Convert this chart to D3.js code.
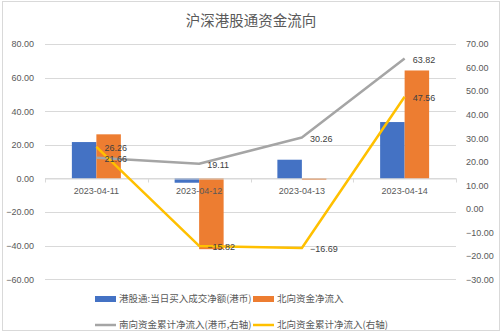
<!DOCTYPE html>
<html><head><meta charset="utf-8">
<script src="https://cdn.jsdelivr.net/npm/d3@7"></script>
<style>body{margin:0;background:#fff}svg{display:block}</style>
</head><body>
<svg id="c" width="502" height="336"></svg>
<script>
const categories = ["2023-04-11","2023-04-12","2023-04-13","2023-04-14"];
const southDaily = [21.66, -2.55, 11.15, 33.56];   // 港股通:当日买入成交净额(港币)
const northDaily = [26.26, -42.08, -0.87, 64.25];  // 北向资金净流入
const southCum = [21.66, 19.11, 30.26, 63.82];     // 南向资金累计净流入(港币,右轴)
const northCum = [26.26, -15.82, -16.69, 47.56];   // 北向资金累计净流入(右轴)
const leftTicks = [80, 60, 40, 20, 0, -20, -40, -60];
const rightTicks = [70, 60, 50, 40, 30, 20, 10, 0, -10, -20, -30];
const title = "沪深港股通资金流向";
const legendNames = ["港股通:当日买入成交净额(港币)","北向资金净流入","南向资金累计净流入(港币,右轴)","北向资金累计净流入(右轴)"];

const svg = d3.select("#c");
const cjk = "'Noto Sans CJK SC','Liberation Sans',sans-serif";
const num = "'Liberation Sans',Arial,sans-serif";
const txt = "#595959";

svg.append("rect").attr("x",2.5).attr("y",1.5).attr("width",497).attr("height",329)
  .attr("fill","#fff").attr("stroke","#d9d9d9").attr("stroke-width",1);

svg.append("text").attr("x",251).attr("y",26).attr("text-anchor","middle")
  .attr("font-family",cjk).attr("font-size",14.5).attr("fill",txt).text(title);

const L = 45, R = 456, T = 44, B = 279.3;
const x = d3.scaleBand().domain(categories).range([L,R]);
const yL = d3.scaleLinear().domain([-60,80]).range([B,T]);
const yR = d3.scaleLinear().domain([-30,70]).range([B,T]);
const barW = 24.5;

// gridlines
svg.append("g").selectAll("line").data(leftTicks).join("line")
  .attr("x1",L).attr("x2",R).attr("y1",d=>Math.round(yL(d))+0.5).attr("y2",d=>Math.round(yL(d))+0.5)
  .attr("stroke","#d9d9d9").attr("stroke-width",1);

// left axis labels
const axL = d3.axisLeft(yL).tickValues(leftTicks).tickFormat(d3.format(".2f")).tickSize(0).tickPadding(11);
const gL = svg.append("g").attr("transform",`translate(${L},0)`).call(axL);
gL.select(".domain").remove();
gL.selectAll("text").attr("font-family",num).attr("font-size",9).attr("fill",txt);

// right axis labels
const axR = d3.axisRight(yR).tickValues(rightTicks).tickFormat(d3.format(".2f")).tickSize(0).tickPadding(10);
const gR = svg.append("g").attr("transform",`translate(${R},0)`).call(axR);
gR.select(".domain").remove();
gR.selectAll("text").attr("font-family",num).attr("font-size",9).attr("fill",txt);

// bars
const data = categories.map((c,i)=>({c, s:southDaily[i], n:northDaily[i]}));
const bars = svg.append("g");
bars.selectAll(".bs").data(data).join("rect")
  .attr("x",d=>x(d.c)+x.bandwidth()/2-barW).attr("width",barW)
  .attr("y",d=>yL(Math.max(0,d.s))).attr("height",d=>Math.abs(yL(d.s)-yL(0)))
  .attr("fill","#4472c4");
bars.selectAll(".bn").data(data).join("rect")
  .attr("x",d=>x(d.c)+x.bandwidth()/2).attr("width",barW)
  .attr("y",d=>yL(Math.max(0,d.n))).attr("height",d=>Math.abs(yL(d.n)-yL(0)))
  .attr("fill","#ed7d31");

// category axis at zero
const axX = d3.axisBottom(x).tickSize(0).tickPadding(9);
const y0 = Math.round(yL(0))+0.5;
const gX = svg.append("g").attr("transform",`translate(0,${y0})`).call(axX);
gX.select(".domain").attr("stroke","#d9d9d9");
gX.selectAll("text").attr("font-family",num).attr("font-size",9).attr("fill",txt);
svg.append("g").selectAll("line").data(d3.range(categories.length+1)).join("line")
  .attr("x1",i=>Math.round(L+i*x.bandwidth())+0.5).attr("x2",i=>Math.round(L+i*x.bandwidth())+0.5)
  .attr("y1",y0).attr("y2",y0+4).attr("stroke","#d9d9d9");

// lines
const cx = c => x(c)+x.bandwidth()/2;
const lineGen = vals => d3.line().x((d,i)=>cx(categories[i])).y(d=>yR(d))(vals);
svg.append("path").attr("d",lineGen(southCum)).attr("fill","none").attr("stroke","#a5a5a5")
  .attr("stroke-width",2.5).attr("stroke-linejoin","round");
svg.append("path").attr("d",lineGen(northCum)).attr("fill","none").attr("stroke","#ffc000")
  .attr("stroke-width",2.5).attr("stroke-linejoin","round");

// data labels
const labels = svg.append("g").attr("font-family",num).attr("font-size",9).attr("fill","#404040");
[southCum, northCum].forEach(vals=>{
  labels.selectAll(null).data(vals).join("text")
    .attr("x",(d,i)=>cx(categories[i])+8).attr("y",d=>yR(d)+4)
    .text(d=>d3.format(".2f")(d));
});

// legend
const lg = svg.append("g").attr("font-family",cjk).attr("font-size",9.5).attr("fill",txt);
const lx = [95, 253];
const ly = [299, 325];
lg.append("rect").attr("x",lx[0]).attr("y",ly[0]-3).attr("width",21).attr("height",6).attr("fill","#4472c4");
lg.append("rect").attr("x",lx[1]).attr("y",ly[0]-3).attr("width",21).attr("height",6).attr("fill","#ed7d31");
lg.append("line").attr("x1",lx[0]).attr("x2",lx[0]+21).attr("y1",ly[1]).attr("y2",ly[1]).attr("stroke","#a5a5a5").attr("stroke-width",2.5);
lg.append("line").attr("x1",lx[1]).attr("x2",lx[1]+21).attr("y1",ly[1]).attr("y2",ly[1]).attr("stroke","#ffc000").attr("stroke-width",2.5);
[[0,0],[1,0],[0,1],[1,1]].forEach(([c,r],k)=>{
  lg.append("text").attr("x",lx[c]+24).attr("y",ly[r]).attr("dy","0.35em").text(legendNames[k]);
});
</script>
</body></html>
